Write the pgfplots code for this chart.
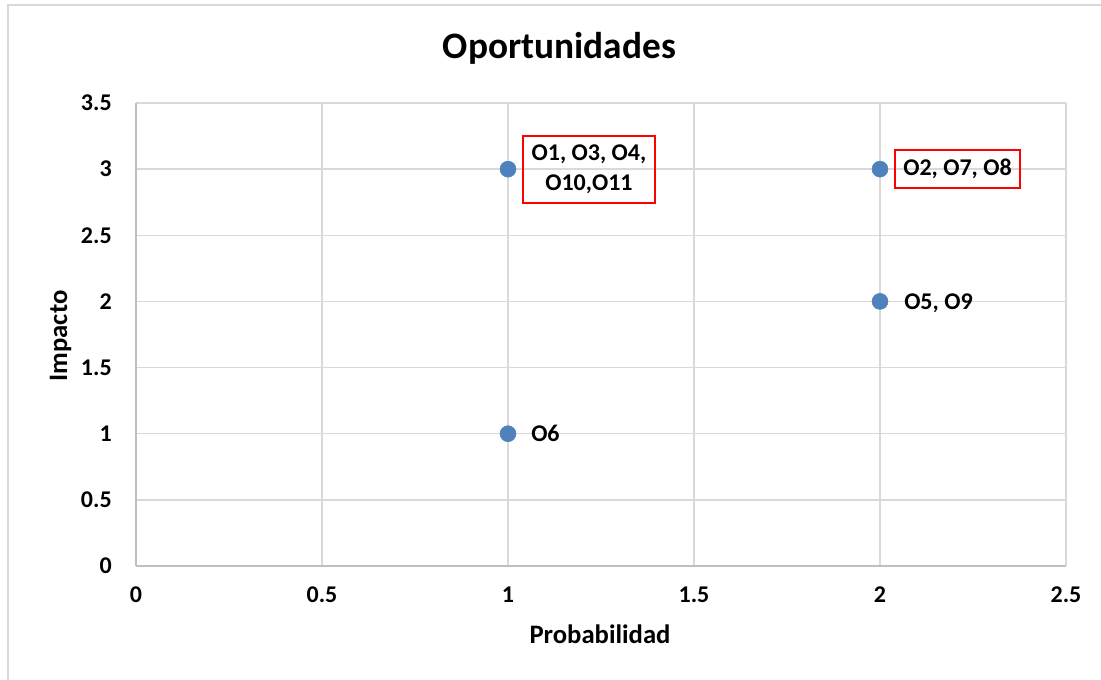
\documentclass[border=0pt]{standalone}
\usepackage{pgfplots}
\pgfplotsset{compat=1.18}
\usepackage{fontspec}
\setmainfont{Carlito}
\definecolor{gridgray}{HTML}{D9D9D9}
\definecolor{axisgray}{HTML}{BFBFBF}
\definecolor{markblue}{HTML}{4F81BD}
\begin{document}
\begin{tikzpicture}
\useasboundingbox (0pt,0pt) rectangle (825.75pt,510pt);
% chart area border (left and top edges only are visible)
\draw[gridgray, line width=0.8pt] (6pt,-5pt) -- (6pt,506.25pt) -- (830pt,506.25pt);
\begin{axis}[
  at={(102pt,85.5pt)}, anchor=south west,
  scale only axis, width=697.5pt, height=347.25pt,
  xmin=0, xmax=2.5, ymin=0, ymax=3.5,
  xtick={0,0.5,1,1.5,2,2.5}, xticklabels={0,0.5,1,1.5,2,2.5},
  ytick={0,0.5,1,1.5,2,2.5,3,3.5}, yticklabels={0,0.5,1,1.5,2,2.5,3,3.5},
  major tick length=0pt,
  axis lines=left, axis line style={-, draw=axisgray, line width=1pt},
  grid=major, major grid style={gridgray, line width=1pt},
  xticklabel style={font=\fontsize{18}{22}\selectfont\bfseries, anchor=base, inner sep=0pt, yshift=-27.75pt},
  yticklabel style={font=\fontsize{18}{22}\selectfont\bfseries, anchor=east, inner sep=0pt, xshift=-18pt},
  clip=false,
]
\addplot[only marks, mark=*, mark size=6pt, mark options={fill=markblue, draw=markblue}]
  coordinates {(1,3) (2,3) (2,2) (1,1)};
\node[draw=red, line width=1.5pt, anchor=west, xshift=10.5pt, inner sep=0pt,
  minimum width=99pt, minimum height=50.25pt, align=center,
  font=\fontsize{18}{22.5}\selectfont\bfseries] at (axis cs:1,3) {O1, O3, O4,\\O10,O11};
\node[draw=red, line width=1.5pt, anchor=west, xshift=10.5pt, inner sep=0pt,
  minimum width=93.75pt, minimum height=28.5pt,
  font=\fontsize{18}{22.5}\selectfont\bfseries] at (axis cs:2,3) {O2, O7, O8};
\node[anchor=base west, inner sep=0pt, xshift=18pt, yshift=-5.8pt,
  font=\fontsize{18}{22.5}\selectfont\bfseries] at (axis cs:2,2) {O5, O9};
\node[anchor=base west, inner sep=0pt, xshift=17.25pt, yshift=-5.8pt,
  font=\fontsize{18}{22.5}\selectfont\bfseries] at (axis cs:1,1) {O6};
\end{axis}
\node[anchor=base, font=\fontsize{28}{34}\selectfont\bfseries] at (419.6pt,465.75pt) {Oportunidades};
\node[anchor=base, font=\fontsize{20}{24}\selectfont\bfseries] at (450pt,27.5pt) {Probabilidad};
\node[anchor=base, rotate=90, font=\fontsize{20}{24}\selectfont\bfseries] at (50.25pt,258pt) {Impacto};
\end{tikzpicture}
\end{document}
